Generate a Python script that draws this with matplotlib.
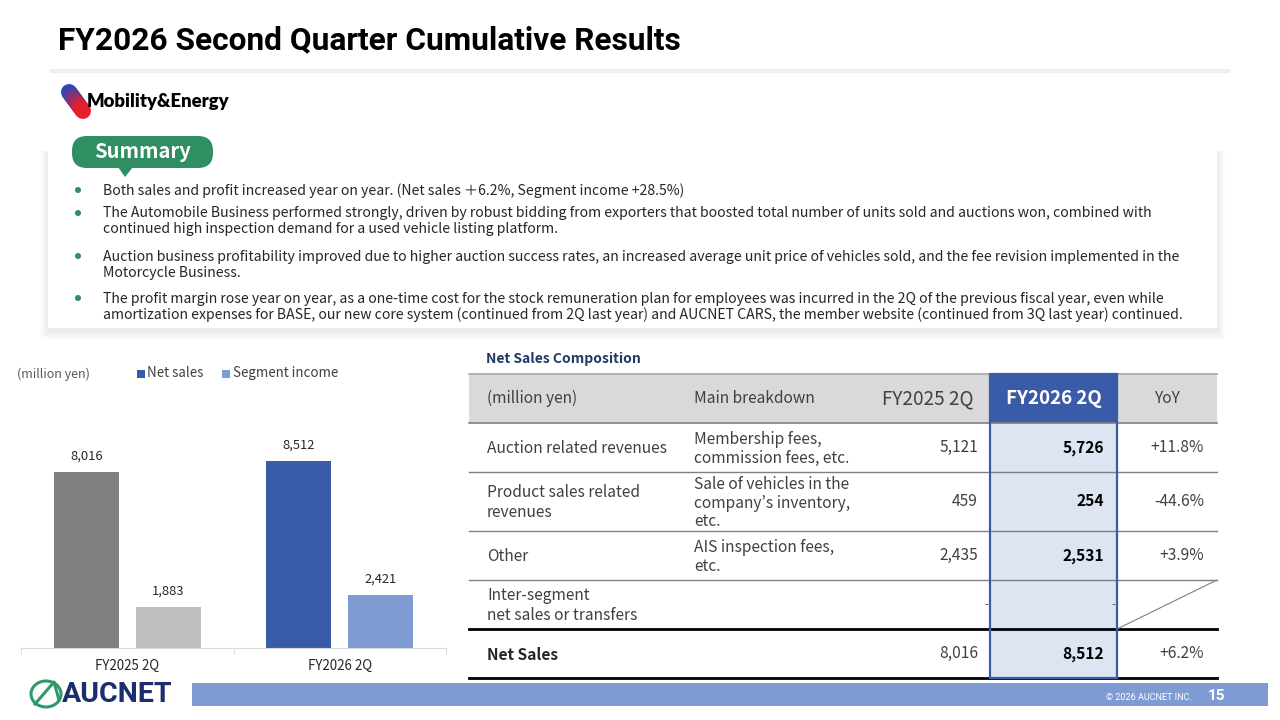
import matplotlib
matplotlib.use('Agg')
import matplotlib.pyplot as plt
from matplotlib.patches import Rectangle, FancyBboxPatch, Polygon, Circle, Ellipse
import numpy as np

# ---------------- data ----------------
categories = ['FY2025 2Q', 'FY2026 2Q']
net_sales = [8016, 8512]
segment_income = [1883, 2421]
net_colors = ['#7f7f7f', '#3a5ca8']
seg_colors = ['#bfbfbf', '#7f9bd3']
legend_labels = ['Net sales', 'Segment income']

table_header = ['(million yen)', 'Main breakdown', 'FY2025 2Q', 'FY2026 2Q', 'YoY']
row_labels = ['Auction related revenues', 'Product sales related\nrevenues', 'Other',
              'Inter-segment\nnet sales or transfers', 'Net Sales']
row_breakdown = ['Membership fees,\ncommission fees, etc.',
                 'Sale of vehicles in the\ncompany\u2019s inventory,\netc.',
                 'AIS inspection fees,\netc.', '', '']
fy2025_vals = ['5,121', '459', '2,435', '-', '8,016']
fy2026_vals = ['5,726', '254', '2,531', '-', '8,512']
yoy_vals = ['+11.8%', '-44.6%', '+3.9%', '', '+6.2%']

summary_bullets = [
    ['Both sales and profit increased year on year. (Net sales \uff0b6.2%, Segment income +28.5%)'],
    ['The Automobile Business performed strongly, driven by robust bidding from exporters that boosted total number of units sold and auctions won, combined with',
     'continued high inspection demand for a used vehicle listing platform.'],
    ['Auction business profitability improved due to higher auction success rates, an increased average unit price of vehicles sold, and the fee revision implemented in the',
     'Motorcycle Business.'],
    ['The profit margin rose year on year, as a one-time cost for the stock remuneration plan for employees was incurred in the 2Q of the previous fiscal year, even while',
     'amortization expenses for BASE, our new core system (continued from 2Q last year) and AUCNET CARS, the member website (continued from 3Q last year) continued.'],
]

title_text = 'FY2026 Second Quarter Cumulative Results'

# ---------------- style ----------------
plt.rcParams['font.family'] = ['Noto Sans CJK JP', 'DejaVu Sans']
BLUE = '#3a5ca8'
LBLUE = '#7f9bd3'
GREEN = '#2f8f63'
TXT = '#404040'
TFS = 11.2  # table font size

fig = plt.figure(figsize=(12.8, 7.2), dpi=100)
fig.patch.set_facecolor('white')
ax = fig.add_axes([0, 0, 1, 1])
ax.set_xlim(0, 1280)
ax.set_ylim(720, 0)
ax.axis('off')

# title
ax.text(58, 40, title_text, fontsize=22.8, fontweight='bold', color='black',
        va='center', ha='left', family=['Roboto', 'DejaVu Sans'])
ax.plot([50, 1230], [71, 71], color='#eeeeee', lw=3, solid_capstyle='butt')

# Mobility & Energy logo
n = 24
xs = np.linspace(69, 83, n + 1)
ys = np.linspace(92, 111, n + 1)
c0 = np.array([0x1f, 0x4a, 0xc0]) / 255
c1 = np.array([0xe8, 0x1e, 0x2c]) / 255
for i in range(n):
    t = i / (n - 1)
    ax.plot(xs[i:i + 2], ys[i:i + 2], color=c0 * (1 - t) + c1 * t, lw=11.5,
            solid_capstyle='round', zorder=3)
ax.text(87, 102, 'Mobility&Energy', fontsize=13.3, fontweight='heavy', color='black',
        va='center', ha='left', family=['Lato', 'DejaVu Sans'], zorder=4)

# summary box with shadow
bx, by, bw, bh = 48, 150, 1169, 178
for i in range(10, 0, -1):
    ax.add_patch(Rectangle((bx - i * 0.8, by - i * 0.3 + 3), bw + i * 1.6, bh + i * 1.2,
                           facecolor='black', alpha=0.008, edgecolor='none', zorder=1))
ax.add_patch(Rectangle((bx, by), bw, bh, facecolor='white', edgecolor='none', zorder=2))

# summary badge
ax.add_patch(FancyBboxPatch((72, 136), 141, 32, boxstyle='round,pad=0,rounding_size=15',
                            facecolor=GREEN, edgecolor='none', zorder=5))
ax.add_patch(Polygon([(118, 167), (133, 167), (125, 177)], closed=True,
                     facecolor=GREEN, edgecolor='none', zorder=5))
ax.text(142, 152, 'Summary', fontsize=14.5, fontweight='bold', color='white',
        ha='center', va='center', zorder=6)

# bullets
bullet_y = [189, 212, 255, 297]
for y, lines in zip(bullet_y, summary_bullets):
    ax.add_patch(Circle((78, y + 1), 3, facecolor=GREEN, edgecolor='none', zorder=5))
    for j, ln in enumerate(lines):
        ax.text(103, y + 1.5 + j * 16, ln, fontsize=10.15, color='#262626', ha='left', va='center', zorder=5)

# ---------------- bar chart ----------------
ax.text(17, 374, '(million yen)', fontsize=9, color='#595959', ha='left', va='center')
ax.add_patch(Rectangle((137, 370), 8, 8, facecolor=BLUE, edgecolor='none'))
ax.text(147, 373, legend_labels[0], fontsize=9.6, color=TXT, ha='left', va='center')
ax.add_patch(Rectangle((222, 370), 8, 8, facecolor=LBLUE, edgecolor='none'))
ax.text(233, 373, legend_labels[1], fontsize=9.6, color=TXT, ha='left', va='center')

scale = 176 / 8016.0  # px per unit
axb = fig.add_axes([21 / 1280, (720 - 648) / 720, 425 / 1280, 248 / 720])
axb.set_xlim(-0.5, 1.5)
axb.set_ylim(0, 248 / scale)
x = np.arange(len(categories))
w = 65 / 212.5
off = 41 / 212.5
b1 = axb.bar(x - off, net_sales, w, color=net_colors)
b2 = axb.bar(x + off, segment_income, w, color=seg_colors)
for bars, vals in ((b1, net_sales), (b2, segment_income)):
    for rect, v in zip(bars, vals):
        axb.annotate(f'{v:,}', (rect.get_x() + rect.get_width() / 2, v),
                     xytext=(0, 9), textcoords='offset pixels', ha='center', va='bottom',
                     fontsize=9.3, color='#262626')
for s in ['top', 'right', 'left']:
    axb.spines[s].set_visible(False)
axb.spines['bottom'].set_color('#d9d9d9')
axb.set_yticks([])
axb.set_xticks(x)
axb.set_xticklabels(categories, fontsize=9.6, color='#262626')
axb.tick_params(axis='x', which='major', length=0, pad=8)
axb.set_xticks([-0.5, 0.5, 1.5], minor=True)
axb.tick_params(axis='x', which='minor', length=4, color='#d9d9d9')
axb.patch.set_alpha(0)

# ---------------- table ----------------
ax.text(486, 359, 'Net Sales Composition', fontsize=10, fontweight='bold', color='#1f3864',
        ha='left', va='center')
col = [469, 690, 862, 990, 1117, 1217]
row = [374, 423, 472, 531, 580, 629, 678]

ax.add_patch(Rectangle((col[0], row[0]), col[5] - col[0], row[1] - row[0],
                       facecolor='#d9d9d9', edgecolor='none', zorder=2))
ax.add_patch(Rectangle((col[3], row[1]), col[4] - col[3], row[6] - row[1],
                       facecolor='#dde4f2', edgecolor='none', zorder=2))
ax.add_patch(Rectangle((col[3], row[0]), col[4] - col[3], row[1] - row[0],
                       facecolor=BLUE, edgecolor='none', zorder=3))

# header text
hy = (row[0] + row[1]) / 2
ax.text(487, hy, table_header[0], fontsize=11.2, color=TXT, ha='left', va='center', zorder=5)
ax.text(694, hy, table_header[1], fontsize=11.2, color=TXT, ha='left', va='center', zorder=5)
ax.text((col[2] + col[3]) / 2 + 2, hy, table_header[2], fontsize=13.6, color=TXT, ha='center', va='center', zorder=5)
ax.text((col[3] + col[4]) / 2, hy, table_header[3], fontsize=13.5, fontweight='bold', color='white',
        ha='center', va='center', zorder=5)
ax.text((col[4] + col[5]) / 2, hy, table_header[4], fontsize=11.2, color=TXT, ha='center', va='center', zorder=5)

# rows
for i in range(5):
    cy = (row[i + 1] + row[i + 2]) / 2
    bold = (i == 4)
    ax.text(487, cy + 1, row_labels[i], fontsize=TFS, color='#262626' if bold else TXT,
            fontweight='bold' if bold else 'normal', ha='left', va='center',
            linespacing=1.22, zorder=5)
    if row_breakdown[i]:
        ax.text(694, cy + 1.5, row_breakdown[i], fontsize=TFS, color=TXT, ha='left', va='center',
                linespacing=1.12, zorder=5)
    if fy2025_vals[i] == '-':
        ax.text(988, cy + 1, '-', fontsize=8, color=TXT, ha='right', va='center', zorder=5)
        ax.text(1115, cy + 1, '-', fontsize=8, color=TXT, ha='right', va='center', zorder=5)
    else:
        ax.text(978, cy, fy2025_vals[i], fontsize=TFS, color=TXT, ha='right', va='center', zorder=5)
        ax.text(1104, cy, fy2026_vals[i], fontsize=TFS, fontweight='bold', color='black',
                ha='right', va='center', zorder=5)
    if yoy_vals[i]:
        ax.text(1204, cy, yoy_vals[i], fontsize=TFS, color=TXT, ha='right', va='center', zorder=5)

# table lines
ax.plot([col[0], col[5]], [row[0], row[0]], color='#a6a6a6', lw=1.2, zorder=4)
ax.plot([col[0], col[5]], [row[1], row[1]], color='#7f7f7f', lw=1.2, zorder=4)
for r in row[2:5]:
    ax.plot([col[0], col[5]], [r, r], color='#7f7f7f', lw=1.0, zorder=4)
ax.plot([col[0], col[5]], [row[5], row[5]], color='black', lw=2.0, zorder=4)
ax.plot([col[0], col[5]], [row[6], row[6]], color='black', lw=2.0, zorder=4)
ax.plot([col[4], col[5]], [row[5], row[4]], color='#7f7f7f', lw=0.8, zorder=4)
ax.add_patch(Rectangle((col[3], row[0]), col[4] - col[3], row[6] - row[0],
                       facecolor='none', edgecolor=BLUE, lw=1.6, zorder=6))

# ---------------- footer ----------------
ax.add_patch(Rectangle((192, 683), 1076, 23, facecolor=LBLUE, edgecolor='none', zorder=2))
ax.text(1192, 697, '\u00a9 2026 AUCNET INC.', fontsize=6.5, color='white', ha='right', va='center',
        family=['Roboto', 'DejaVu Sans'], zorder=3)
ax.text(1225, 696, '15', fontsize=11, fontweight='bold', color='white', ha='right', va='center',
        family=['Roboto', 'DejaVu Sans'], zorder=3)
ax.add_patch(Ellipse((46, 694), 30, 26, facecolor='none', edgecolor='#2e9a6a', lw=2.2, zorder=3))
ax.plot([35, 54, 59], [704, 682, 700], color='#2e9a6a', lw=2.2, zorder=3)
ax.text(62, 694, 'AUCNET', fontsize=20.5, fontweight='bold', color='#1a2e6e', ha='left', va='center',
        family=['Roboto', 'DejaVu Sans'], zorder=3)

fig.savefig('out.png', dpi=100)
